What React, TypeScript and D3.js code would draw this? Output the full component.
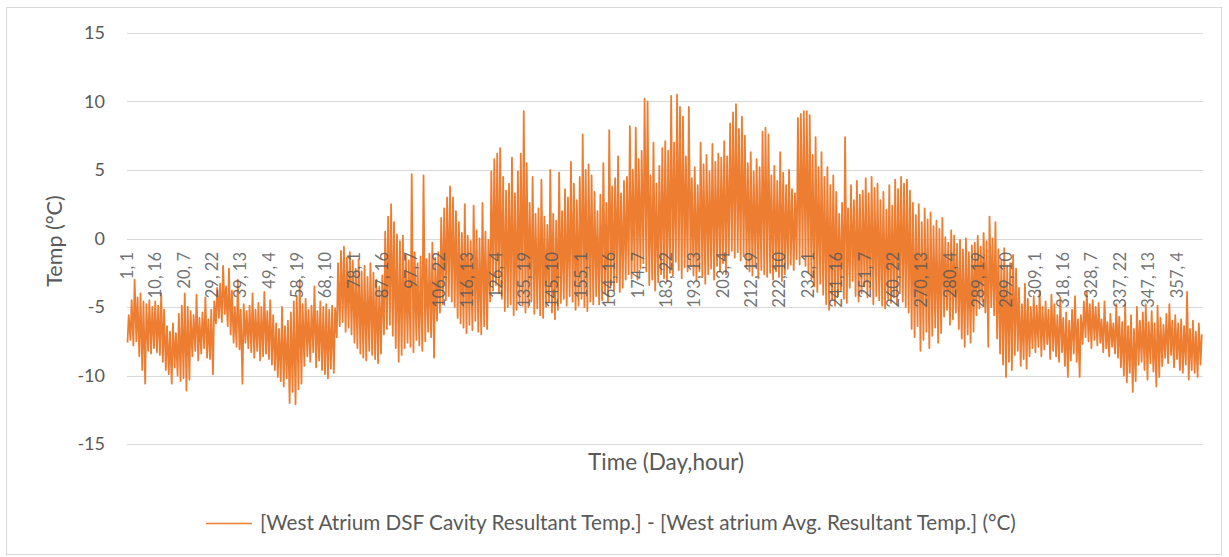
import React from "react";
import * as d3 from "d3";

// Y axis ticks (°C)
const yTicks = [-15, -10, -5, 0, 5, 10, 15];

// Category labels shown every 231 hours (day, hour)
const tickLabels = [
  "1, 1", "10, 16", "20, 7", "29, 22", "39, 13", "49, 4", "58, 19", "68, 10", "78, 1", "87, 16",
  "97, 7", "106, 22", "116, 13", "126, 4", "135, 19", "145, 10", "155, 1", "164, 16", "174, 7", "183, 22",
  "193, 13", "203, 4", "212, 19", "222, 10", "232, 1", "241, 16", "251, 7", "260, 22", "270, 13", "280, 4",
  "289, 19", "299, 10", "309, 1", "318, 16", "328, 7", "337, 22", "347, 13", "357, 4",
];
const labelStepHours = 231;
const totalHours = 8760;

// Daily high of the temperature difference (°C), days 1..365
const dailyHigh = [
  -5.6, -4.5, -3.0, -4.3, -4.0, -4.6, -4.8, -4.5, -5.0, -4.6,
  -4.9, -4.0, -5.2, -6.4, -6.8, -6.2, -6.9, -5.5, -4.9, -4.0,
  -5.0, -5.3, -5.6, -4.1, -5.8, -5.4, -4.3, -5.9, -5.2, -4.6,
  -3.6, -3.3, -2.0, -3.5, -2.2, -3.8, -5.0, -3.0, -5.2, -4.8,
  -5.3, -4.9, -4.0, -5.2, -4.7, -5.0, -3.9, -5.3, -4.5, -5.6,
  -6.2, -6.6, -5.0, -6.4, -6.0, -5.4, -4.6, -4.2, -3.0, -4.8,
  -4.4, -5.2, -4.9, -3.5, -5.3, -4.6, -5.0, -4.8, -5.2, -4.9,
  -5.1, -1.8, -0.9, -0.6, -1.4, -1.0, -1.6, -2.2, -1.5, -2.4,
  -2.0, -2.8, -1.8, -2.5, -3.0, -3.5, -2.7, 0.5, 1.6, 2.5,
  1.2, 0.3, -0.2, 0.2, -1.2, -1.6, 4.7, -1.0, -1.8, -1.3,
  4.6, -1.5, -1.1, -0.3, -1.4, -1.0, 1.5, 2.2, 3.0, 3.8,
  3.0, 2.0, 1.2, 0.4, 2.5, 0.2, -0.2, 2.4, 0.6, 0.0,
  2.6, 0.5, -0.1, 4.9, 5.8, 6.2, 6.6, 4.5, 3.5, 4.0,
  5.9, 3.3, 4.9, 6.2, 9.3, 5.5, 2.6, 4.5, 1.8, 2.2,
  4.3, 1.6, 1.0, 5.0, 1.8, 1.3, 4.8, 2.0, 3.6, 3.0,
  5.6, 4.0, 2.8, 4.5, 7.6, 5.0, 5.4, 4.6, 3.4, 2.0,
  3.2, 5.5, 2.6, 7.9, 3.8, 4.4, 6.0, 3.3, 4.2, 4.5,
  8.2, 5.0, 8.1, 5.8, 6.4, 10.2, 10.0, 4.6, 7.0, 4.0,
  5.3, 6.6, 7.1, 6.4, 10.4, 7.0, 10.5, 9.6, 8.9, 6.0,
  9.6, 4.4, 5.2, 3.9, 7.0, 5.4, 6.1, 4.9, 6.9, 5.6,
  6.2, 5.9, 7.1, 6.0, 8.4, 9.2, 9.8, 8.0, 8.9, 7.5,
  5.5, 6.3, 4.9, 5.8, 5.2, 7.8, 8.1, 7.6, 4.6, 5.3,
  4.2, 6.3, 4.8, 3.9, 5.0, 3.6, 3.3, 8.8, 9.1, 9.3,
  9.3, 9.0, 6.1, 7.4, 5.2, 6.3, 4.5, 5.2, 3.9, 4.6,
  3.4, 1.8, 2.6, 7.4, 2.2, 3.9, 2.8, 4.2, 3.2, 3.5,
  4.4, 3.3, 4.5, 3.7, 4.0, 2.8, 3.4, 2.1, 3.9, 2.4,
  4.3, 3.6, 4.5, 4.0, 4.3, 3.5, 2.6, 1.7, 2.5, 1.2,
  2.2, 1.4, 1.9, 0.9, 1.3, 0.7, 1.5, 0.1, -0.3, 0.6,
  0.2, -0.4, -0.1, -0.8, 0.0, -1.0, -0.5, -0.3, 0.2, -0.6,
  0.4, -0.2, 1.6, 0.0, 1.2, -0.8, -1.6, -0.7, -2.0, -1.8,
  -1.2, -2.2, -3.6, -4.8, -3.3, -4.4, -5.0, -4.2, -4.9, -3.8,
  -5.0, -4.6, -5.2, -4.1, -4.8, -5.6, -4.3, -5.8, -5.4, -6.0,
  -5.2, -4.2, -5.9, -5.6, -4.6, -3.9, -4.8, -4.5, -5.0, -4.7,
  -5.9, -4.6, -6.1, -5.5, -6.2, -4.8, -5.7, -6.1, -4.8, -6.4,
  -5.6, -6.6, -5.0, -6.0, -5.4, -4.8, -6.1, -5.3, -6.2, -4.9,
  -5.8, -6.3, -5.5, -4.8, -6.0, -5.6, -6.2, -5.9, -6.4, -3.9,
  -6.6, -6.0, -6.8, -6.2, -7.0,
];

// Daily low of the temperature difference (°C), days 1..365
const dailyLow = [
  -7.6, -7.4, -7.8, -7.5, -8.6, -9.6, -10.6, -8.2, -8.4, -8.0,
  -8.3, -8.5, -9.0, -9.6, -9.9, -10.6, -9.4, -10.0, -10.4, -10.2,
  -11.1, -10.3, -8.6, -8.2, -8.9, -8.4, -8.0, -8.7, -8.8, -9.9,
  -6.2, -5.8, -6.1, -5.5, -6.4, -7.0, -7.6, -7.9, -8.1, -10.6,
  -7.6, -8.0, -8.3, -8.7, -8.2, -8.9, -8.6, -8.4, -8.8, -9.2,
  -9.6, -10.1, -10.4, -10.8, -10.2, -12.0, -11.2, -12.1, -11.0, -10.6,
  -9.3, -8.6, -9.0, -8.3, -9.4, -8.9, -9.6, -9.9, -10.2, -9.5,
  -9.8, -7.2, -6.4, -6.1, -6.8, -6.5, -7.0, -7.6, -8.0, -8.4,
  -8.7, -8.9, -8.2, -8.5, -8.8, -9.1, -8.4, -7.0, -6.6, -6.3,
  -7.1, -8.0, -9.0, -8.5, -8.0, -7.6, -7.9, -8.3, -7.4, -7.8,
  -8.2, -7.5, -6.8, -7.2, -8.7, -6.0, -5.4, -4.8, -4.5, -4.2,
  -4.6, -5.0, -5.8, -6.2, -6.5, -6.9, -6.3, -6.7, -6.0, -6.8,
  -7.0, -6.4, -6.6, -4.6, -3.8, -3.4, -4.0, -4.4, -5.3, -5.0,
  -4.8, -5.6, -5.2, -4.6, -4.9, -5.4, -5.0, -4.6, -5.5, -5.1,
  -5.6, -5.8, -5.0, -4.6, -5.4, -5.9, -5.2, -4.7, -4.4, -4.9,
  -4.2, -4.6, -5.2, -4.9, -4.4, -5.0, -5.3, -4.6, -4.8, -4.2,
  -4.8, -4.5, -4.0, -4.6, -3.4, -3.8, -3.2, -3.9, -3.6, -3.0,
  -2.6, -2.9, -2.4, -3.0, -2.2, -1.8, -2.4, -3.4, -3.0, -3.8,
  -3.2, -2.6, -2.9, -3.1, -2.5, -2.7, -1.7, -2.3, -2.9, -2.1,
  -2.4, -2.0, -2.7, -3.0, -2.4, -2.8, -3.3, -2.6, -2.2, -3.0,
  -2.0, -2.4, -1.8, -2.6, -1.2, -0.9, -1.4, -1.0, -1.6, -1.3,
  -2.0, -2.4, -2.7, -2.1, -2.9, -2.3, -2.6, -2.8, -2.5, -3.0,
  -2.4, -2.8, -3.1, -2.6, -2.2, -1.9, -2.3, -1.5, -1.9, -1.3,
  -2.0, -2.5, -3.0, -3.5, -3.9, -3.3, -4.1, -4.8, -5.2, -4.5,
  -4.9, -4.2, -3.8, -4.4, -4.7, -3.6, -3.1, -4.2, -4.6, -4.0,
  -3.5, -4.3, -3.7, -4.8, -4.2, -4.5, -4.9, -5.1, -4.4, -4.7,
  -4.3, -4.8, -4.0, -4.6, -5.0, -5.4, -6.6, -7.2, -6.4, -8.2,
  -7.4, -6.8, -8.0, -7.1, -6.5, -7.6, -6.9, -5.7, -5.2, -6.3,
  -5.9, -5.4, -6.6, -7.3, -7.9, -7.0, -7.6, -6.8, -5.6, -5.1,
  -4.6, -5.4, -7.9, -5.0, -5.6, -7.3, -8.4, -9.2, -10.1, -9.0,
  -9.6, -8.5, -8.2, -9.3, -8.8, -9.5, -8.6, -8.0, -8.3, -7.9,
  -8.6, -8.1, -7.7, -8.8, -8.2, -8.6, -9.0, -8.3, -9.3, -10.1,
  -8.9, -8.4, -9.0, -10.1, -7.7, -7.2, -7.5, -8.0, -7.4, -7.8,
  -7.6, -8.3, -8.0, -8.6, -7.9, -8.4, -8.7, -9.4, -10.0, -10.5,
  -9.8, -11.2, -10.4, -9.2, -9.0, -9.6, -10.3, -9.1, -9.7, -10.8,
  -10.1, -9.3, -8.7, -9.1, -8.5, -9.4, -8.8, -9.6, -9.8, -9.2,
  -10.3, -9.6, -9.8, -10.1, -9.2,
];

const seriesName =
  "[West Atrium DSF Cavity Resultant Temp.] - [West atrium Avg. Resultant Temp.] (°C)";

const FONT = "Lato, 'Open Sans', sans-serif";
const TEXT = "#595959";
const GRID = "#d9d9d9";
const ORANGE = "#ED7D31";

export default function App() {
  const W = 1229;
  const H = 557;
  const x = d3.scaleLinear().domain([0, totalHours]).range([127, 1203]);
  const y = d3.scaleLinear().domain([-15, 15]).range([444, 33]);

  const pts: [number, number][] = [];
  dailyHigh.forEach((hi, i) => {
    pts.push([i * 24 + 4, dailyLow[i]]);
    pts.push([i * 24 + 14, hi]);
  });
  const line = d3
    .line<[number, number]>()
    .x((d) => x(d[0]))
    .y((d) => y(d[1]));

  return (
    <svg
      width={W}
      height={H}
      style={{ position: "absolute", left: 0, top: 0, background: "#fff" }}
      fontFamily={FONT}
    >
      <rect x={6.5} y={7.5} width={1215} height={547} fill="#fff" stroke={GRID} strokeWidth={1} />
      {yTicks.map((t) => (
        <g key={t}>
          <line x1={127} x2={1203} y1={Math.round(y(t)) + 0.5} y2={Math.round(y(t)) + 0.5} stroke={GRID} strokeWidth={1} />
          <text x={105} y={y(t)} dy="0.35em" textAnchor="end" fontSize={18} fill={TEXT}>
            {t}
          </text>
        </g>
      ))}
      <path d={line(pts) || ""} fill="none" stroke={ORANGE} strokeWidth={1.8} strokeLinejoin="round" />
      {tickLabels.map((lab, k) => (
        <text
          key={lab}
          transform={`translate(${x(k * labelStepHours)},252) rotate(-90)`}
          textAnchor="end"
          dy="0.35em"
          fontSize={16.5}
          fill={TEXT}
          fillOpacity={0.85}
        >
          {lab}
        </text>
      ))}
      <text transform="translate(54,241) rotate(-90)" textAnchor="middle" dy="0.35em" fontSize={21.5} fill={TEXT}>
        Temp (°C)
      </text>
      <text x={666} y={470} textAnchor="middle" fontSize={22.5} fill={TEXT}>
        Time (Day,hour)
      </text>
      <line x1={206} x2={252} y1={523.5} y2={523.5} stroke={ORANGE} strokeWidth={1.5} />
      <text x={260} y={523} dy="0.35em" fontSize={20.7} fill={TEXT}>
        {seriesName}
      </text>
    </svg>
  );
}
